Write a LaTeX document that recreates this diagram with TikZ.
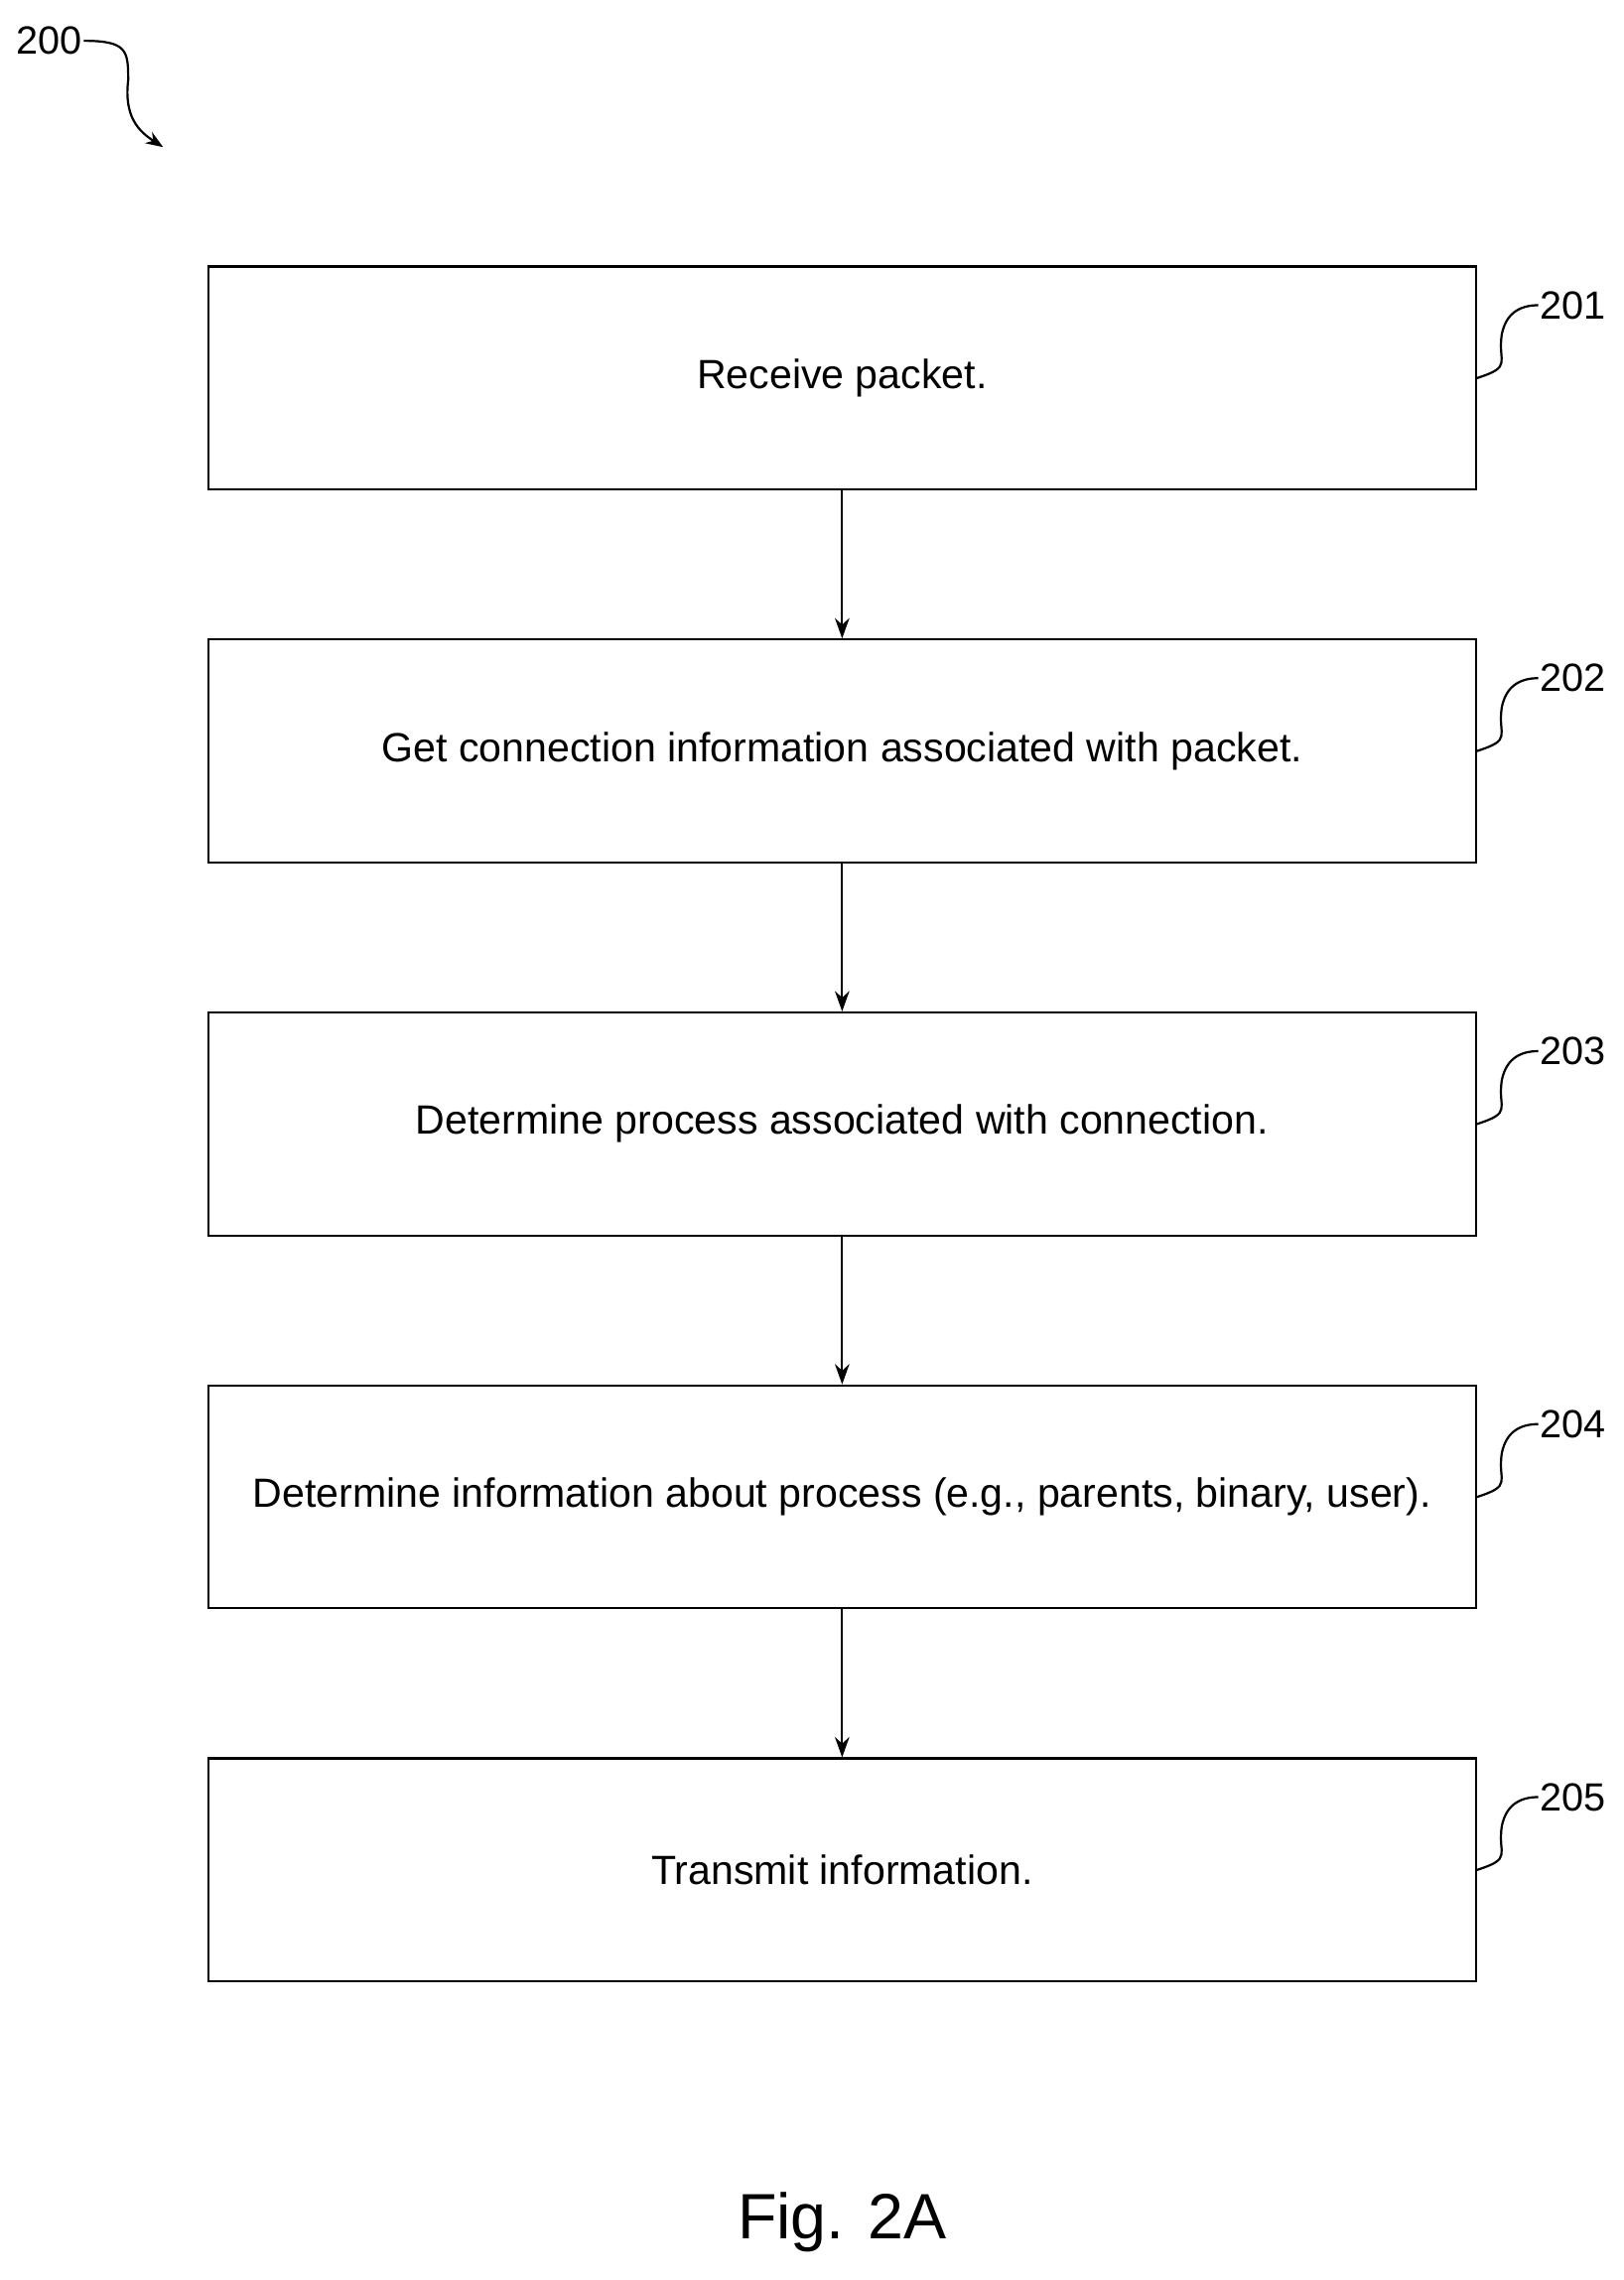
\documentclass[tikz,border=0pt]{standalone}
\usepackage{fontspec}
\setmainfont{Liberation Sans}
\usetikzlibrary{arrows.meta}
\begin{document}
\begin{tikzpicture}[x=1pt,y=-1pt,
  box/.style={draw,line width=1.5pt,minimum width=870pt,minimum height=153pt,inner sep=0pt,font=\fontsize{28}{30}\selectfont},
  lab/.style={font=\fontsize{27}{30}\selectfont,anchor=west,inner sep=1pt},
  arr/.style={line width=1.5pt,-{Stealth[length=14pt,width=10pt]}},
  sq/.style={line width=1.5pt}]
\useasboundingbox (0,0) rectangle (1114,1565);
\node[box] (b1) at (578,259.5) {Receive packet.};
\node[box] (b2) at (578,515.5) {Get connection information associated with packet.};
\node[box] (b3) at (578,771.5) {Determine process associated with connection.};
\node[box] (b4) at (578,1027.5) {Determine information about process (e.g., parents, binary, user).};
\node[box] (b5) at (578,1283.5) {Transmit information.};
\foreach \a/\b in {b1/b2,b2/b3,b3/b4,b4/b5} \draw[arr] (\a.south) -- (\b.north);
\foreach \i/\n in {1/201,2/202,3/203,4/204,5/205}{
  \node[lab] (l\i) at ([xshift=42pt,yshift=50pt]b\i.east) {\n};
  \draw[sq] (b\i.east) .. controls +(25,-8) and +(-3,20) .. ([xshift=17pt,yshift=30pt]b\i.east) .. controls +(3,-15) and +(-12,0) .. (l\i.west);
}
\node[lab] (l0) at (10,28) {200};
\coordinate (e0) at (112,101);
\draw[sq,-{Stealth[length=12pt,width=9pt]}] (l0.east) .. controls +(30,0) and +(0,-20) .. (88,55) .. controls (85,80) and (95,90) .. (e0);
\node[font=\fontsize{44}{48}\selectfont] (fig) at (578,1525) {Fig. 2A};
\end{tikzpicture}
\end{document}
